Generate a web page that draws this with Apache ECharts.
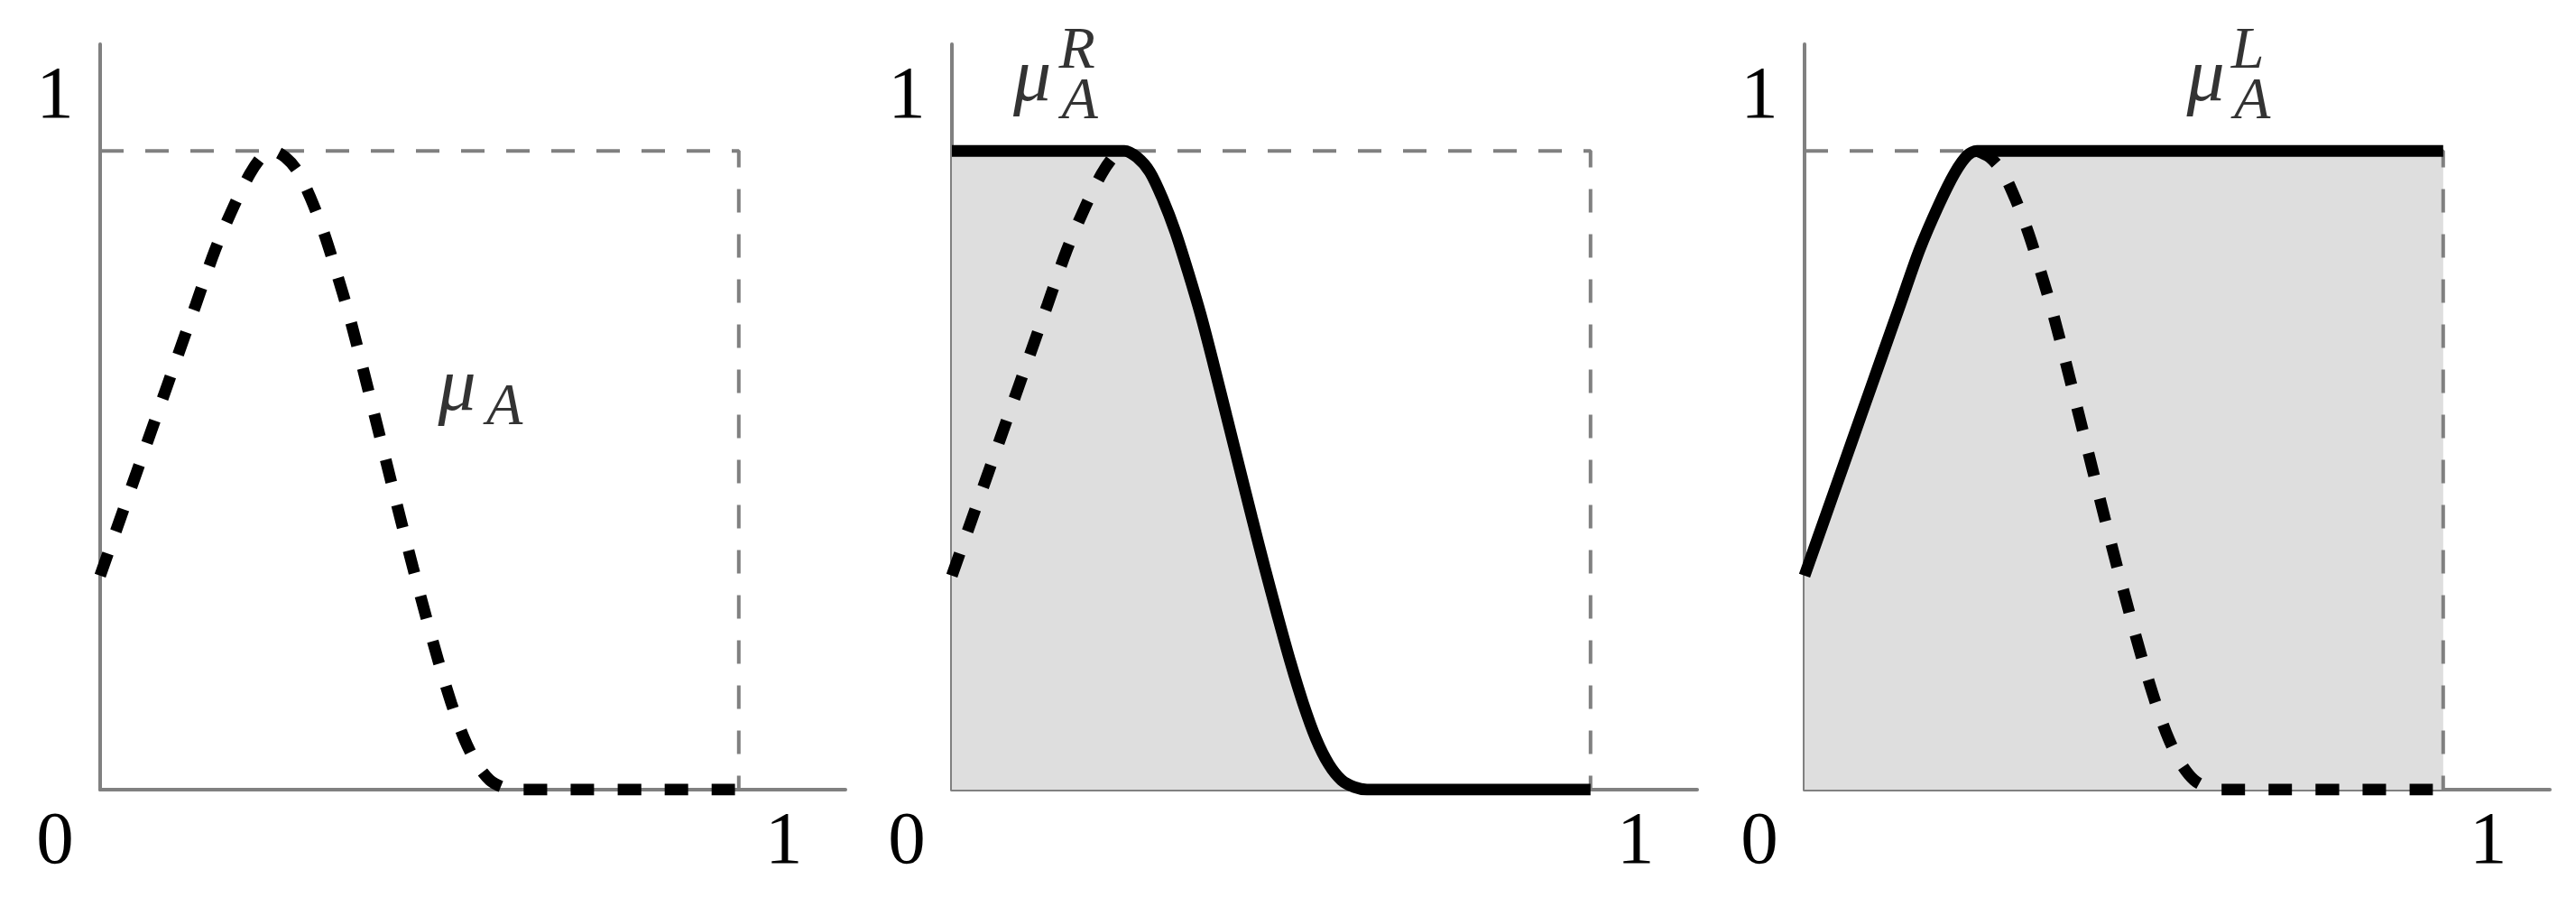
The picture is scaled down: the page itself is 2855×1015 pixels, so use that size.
<!DOCTYPE html>
<html>
<head>
<meta charset="utf-8">
<script src="https://cdn.jsdelivr.net/npm/echarts@6/dist/echarts.min.js"></script>
<style>
  html, body { margin: 0; padding: 0; background: #ffffff; }
  #chart { width: 2855px; height: 1015px; }
</style>
</head>
<body>
<div id="chart"></div>
<script>
  // mu_A (x, membership)
  const muX = [0, 0.03, 0.06, 0.09, 0.12, 0.15, 0.18, 0.21, 0.235, 0.255, 0.27, 0.29, 0.31, 0.33, 0.35, 0.37, 0.39, 0.41, 0.43, 0.45, 0.47, 0.49, 0.51, 0.53, 0.55, 0.57, 0.59, 0.61, 0.63, 0.65, 1.0]
  const muY = [0.335, 0.42, 0.505, 0.59, 0.675, 0.76, 0.845, 0.915, 0.965, 0.993, 1.0, 0.99, 0.967, 0.925, 0.873, 0.81, 0.742, 0.665, 0.585, 0.505, 0.425, 0.347, 0.272, 0.20, 0.135, 0.08, 0.04, 0.015, 0.004, 0, 0]
  // mu_A^R : flat at 1 up to the peak, then mu_A
  const rightY = [1, 1, 1, 1, 1, 1, 1, 1, 1, 1, 1, 0.99, 0.967, 0.925, 0.873, 0.81, 0.742, 0.665, 0.585, 0.505, 0.425, 0.347, 0.272, 0.20, 0.135, 0.08, 0.04, 0.015, 0.004, 0, 0]
  // mu_A^L : mu_A up to the peak, then flat at 1
  const leftY = [0.335, 0.42, 0.505, 0.59, 0.675, 0.76, 0.845, 0.915, 0.965, 0.993, 1, 1, 1, 1, 1, 1, 1, 1, 1, 1, 1, 1, 1, 1, 1, 1, 1, 1, 1, 1, 1]
  const peakIndex = 10
  // dashed unit box
  const boxX = [0, 1, 1]
  const boxY = [1, 1, 0]
  const xTickLabels = [0, 1]
  const yTickLabels = [1]

  const pairs = (xs, ys) => xs.map((x, i) => [x, ys[i]])
  const muA = pairs(muX, muY)
  const muR = pairs(muX, rightY)
  const muL = pairs(muX, leftY)
  const box = pairs(boxX, boxY)

  const serif = "'Liberation Serif', 'DejaVu Serif', serif"
  const grey = '#808080'
  const fillGrey = '#dedede'
  const lefts = [111, 1055, 2000]

  let grids = [], xAxes = [], yAxes = [], series = []

  lefts.forEach((left, i) => {
    grids.push({ left: left, top: 49, width: 826, height: 826 })
    xAxes.push({
      type: 'value', gridIndex: i, min: 0, max: 1.167,
      axisLine: { show: true, lineStyle: { color: grey, width: 4 } },
      axisTick: { show: false },
      splitLine: { show: false },
      axisLabel: {
        customValues: xTickLabels,
        margin: 59,
        verticalAlign: 'middle',
        formatter: (v) => v === 0 ? '{l|0}' : '{r|1}',
        rich: {
          l: { fontFamily: serif, fontSize: 83, color: '#000', padding: [0, 100, 0, 0] },
          r: { fontFamily: serif, fontSize: 83, color: '#000', padding: [0, 0, 0, 100] }
        }
      }
    })
    yAxes.push({
      type: 'value', gridIndex: i, min: 0, max: 1.167,
      axisLine: { show: true, lineStyle: { color: grey, width: 4 } },
      axisTick: { show: false },
      splitLine: { show: false },
      axisLabel: {
        customValues: yTickLabels,
        margin: 50,
        align: 'center',
        formatter: () => '{u|1}',
        rich: {
          u: { fontFamily: serif, fontSize: 83, color: '#000', padding: [0, 0, 117, 0] }
        }
      }
    })
  })

  function boxSeries(i) {
    return {
      type: 'line', xAxisIndex: i, yAxisIndex: i, data: box, symbol: 'none', z: 3,
      lineStyle: { color: grey, width: 4, type: [26, 24] }
    }
  }
  function curve(i, data, dashed) {
    return {
      type: 'line', xAxisIndex: i, yAxisIndex: i, data: data, symbol: 'none', z: 5,
      smooth: 0.3,
      lineStyle: { color: '#000', width: 13, type: dashed ? [26, 26] : 'solid' }
    }
  }
  function fill(i, data) {
    return {
      type: 'line', xAxisIndex: i, yAxisIndex: i, data: data, symbol: 'none', z: 1,
      smooth: 0.3,
      lineStyle: { width: 0 },
      areaStyle: { color: fillGrey, opacity: 1 }
    }
  }
  function labels(i, items) {
    return {
      type: 'scatter', xAxisIndex: i, yAxisIndex: i, z: 6, silent: true,
      symbolSize: 1, itemStyle: { color: 'rgba(0,0,0,0)' },
      data: items.map(t => ({
        value: [t[1], t[2]],
        label: {
          show: true, position: 'inside', formatter: t[0],
          fontFamily: serif, fontStyle: 'italic', fontSize: t[3], color: '#000',
          textBorderWidth: 0
        }
      }))
    }
  }

  // panel 1: mu_A alone
  series.push(boxSeries(0))
  series.push(curve(0, muA, true))
  series.push(labels(0, [['μ', 0.559, 0.626, 84], ['A', 0.633, 0.597, 66]]))

  // panel 2: mu_A^R with shaded area
  series.push(fill(1, muR))
  series.push(boxSeries(1))
  series.push(curve(1, muA.slice(0, peakIndex + 1), true))
  series.push(curve(1, muR, false))
  series.push(labels(1, [['μ', 0.126, 1.110, 84], ['R', 0.196, 1.155, 66], ['A', 0.200, 1.075, 66]]))

  // panel 3: mu_A^L with shaded area
  series.push(fill(2, muL))
  series.push(boxSeries(2))
  series.push(curve(2, muA.slice(peakIndex), true))
  series.push(curve(2, muL, false))
  series.push(labels(2, [['μ', 0.628, 1.110, 84], ['L', 0.694, 1.155, 66], ['A', 0.701, 1.075, 66]]))

  let myChart = echarts.init(document.getElementById('chart'))
  myChart.setOption({
    animation: false,
    backgroundColor: '#ffffff',
    grid: grids,
    xAxis: xAxes,
    yAxis: yAxes,
    series: series
  })
</script>
</body>
</html>
